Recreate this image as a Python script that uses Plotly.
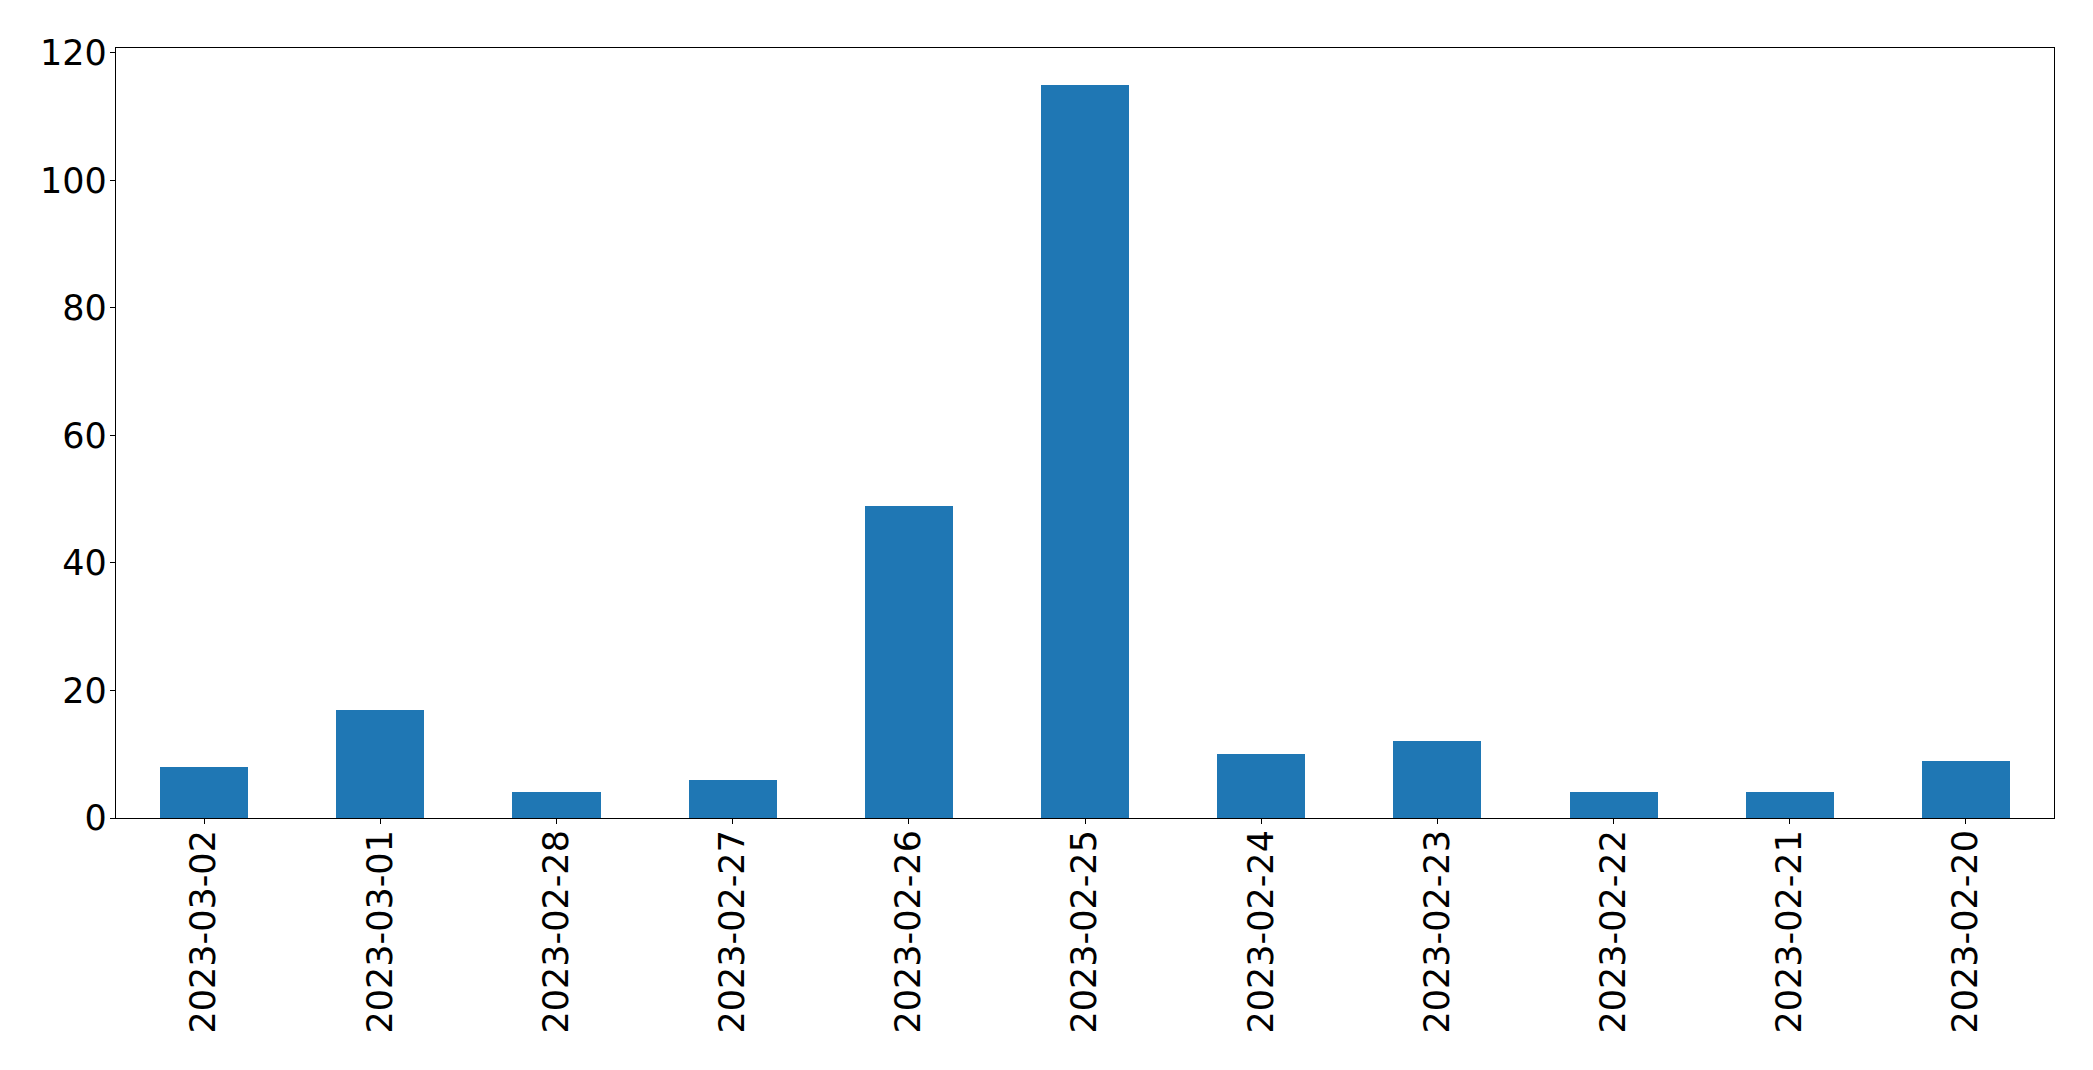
import plotly.graph_objects as go

dates = ["2023-03-02", "2023-03-01", "2023-02-28", "2023-02-27", "2023-02-26",
         "2023-02-25", "2023-02-24", "2023-02-23", "2023-02-22", "2023-02-21", "2023-02-20"]
counts = [8, 17, 4, 6, 49, 115, 10, 12, 4, 4, 9]
y_ticks = [0, 20, 40, 60, 80, 100, 120]

fig = go.Figure(go.Bar(x=dates, y=counts, marker_color="#1f77b4", width=0.5,
                       marker_line_width=0))

font = dict(family="DejaVu Sans", size=35, color="black")
fig.update_layout(
    width=2093, height=1070,
    margin=dict(l=108, r=47, t=40, b=260),
    paper_bgcolor="white", plot_bgcolor="white",
    showlegend=False, bargap=0,
)
fig.update_xaxes(type="category", range=[-0.5, 10.5], tickangle=-90, tickfont=font,
                 showline=True, linecolor="black", linewidth=1.2, mirror=True,
                 ticks="outside", ticklen=5, tickwidth=1.2, tickcolor="black",
                 showgrid=False, zeroline=False, ticklabelstandoff=-8)
fig.update_yaxes(range=[0, 120.75], tickvals=y_ticks, tickfont=font,
                 showline=True, linecolor="black", linewidth=1.2, mirror=True,
                 ticks="outside", ticklen=5, tickwidth=1.2, tickcolor="black",
                 showgrid=False, zeroline=False, ticklabelstandoff=-4)

fig.write_html("out.html")
